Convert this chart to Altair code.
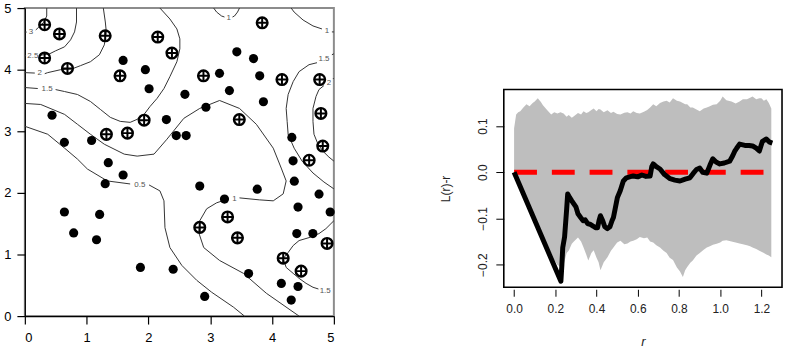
import altair as alt
import pandas as pd

# ---------------- left panel: point pattern ----------------
cross_x = [0.32, 0.56, 1.30, 0.32, 0.69, 2.15, 2.38, 1.54, 3.84, 2.89, 4.16, 4.77, 4.79,
           4.82, 4.60, 3.47, 1.93, 1.32, 1.66, 3.28, 2.83, 3.44, 4.18, 4.47, 4.89]
cross_y = [4.73, 4.58, 4.55, 4.19, 4.02, 4.53, 4.27, 3.90, 4.76, 3.90, 3.84, 3.84, 3.29,
           2.76, 2.53, 3.19, 3.18, 2.95, 2.97, 1.61, 1.44, 1.27, 0.94, 0.73, 1.18]
dot_x = [1.59, 1.95, 2.01, 2.59, 0.44, 2.29, 2.45, 2.61, 0.64, 1.08, 1.35, 3.43, 3.70, 3.15,
         3.80, 3.31, 3.86, 2.93, 4.32, 4.34, 4.36, 4.76, 4.94, 4.42, 4.40, 4.66, 2.83, 3.23,
         3.76, 2.40, 3.62, 2.91, 4.15, 4.42, 4.31, 1.59, 1.30, 0.64, 1.21, 0.79, 1.16, 1.87]
dot_y = [4.15, 4.00, 3.69, 3.60, 3.26, 3.19, 2.93, 2.93, 2.82, 2.85, 2.49, 4.29, 4.18, 3.94,
         3.90, 3.66, 3.48, 3.39, 2.90, 2.52, 2.19, 1.98, 1.69, 1.77, 1.34, 1.34, 2.11, 1.90,
         2.06, 0.76, 0.69, 0.32, 0.53, 0.48, 0.26, 2.29, 2.15, 1.69, 1.65, 1.35, 1.24, 0.79]

# contour paths (traced), one list of (x, y) per segment
contour_segments = {
    "c3a": [(0.354, 5.0), (0.354, 4.87), (0.305, 4.77), (0.225, 4.69), (0.177, 4.645)],
    "c3b": [(0.0, 4.61), (0.03, 4.61)],
    "c25a": [(0.836, 5.0), (0.836, 4.774), (0.804, 4.613), (0.74, 4.484), (0.643, 4.371),
             (0.498, 4.306), (0.402, 4.258), (0.257, 4.235)],
    "c25b": [(0.0, 4.226), (0.02, 4.226)],
    "c2a": [(1.27, 5.0), (1.302, 4.774), (1.318, 4.613), (1.286, 4.403), (1.206, 4.242),
            (1.061, 4.129), (0.9, 4.065), (0.772, 4.016), (0.579, 4.0), (0.37, 3.952),
            (0.322, 3.935)],
    "c2b": [(0.0, 3.952), (0.161, 3.945)],
    "c15a": [(0.0, 3.71), (0.209, 3.694)],
    "c15b": [(0.498, 3.677), (0.643, 3.645), (0.852, 3.597), (1.061, 3.484), (1.222, 3.355),
             (1.383, 3.226), (1.543, 3.161), (1.704, 3.145), (1.817, 3.194), (1.929, 3.274),
             (2.026, 3.403), (2.138, 3.532), (2.251, 3.694), (2.347, 3.887), (2.46, 4.129),
             (2.508, 4.339), (2.508, 4.5), (2.46, 4.661), (2.347, 4.823), (2.186, 5.0)],
    "c1a": [(0.0, 3.452), (0.257, 3.435), (0.643, 3.274), (0.852, 3.113), (1.061, 2.952),
            (1.286, 2.79), (1.608, 2.629), (1.817, 2.597), (2.09, 2.629), (2.299, 2.871),
            (2.572, 3.21), (2.83, 3.371), (3.151, 3.5), (3.473, 3.371), (3.746, 3.113),
            (4.019, 2.726), (4.148, 2.403), (4.228, 2.194), (4.18, 1.984), (4.019, 1.871),
            (3.794, 1.887), (3.473, 1.919)],
    "c1b": [(3.296, 1.903), (3.103, 1.839), (2.942, 1.742), (2.83, 1.548), (2.814, 1.355),
            (2.894, 1.113), (3.151, 0.903), (3.537, 0.694), (3.907, 0.371), (4.437, 0.0)],
    "c05a": [(0.0, 3.081), (0.37, 2.952), (0.643, 2.726), (0.852, 2.548), (1.013, 2.387),
             (1.334, 2.194), (1.704, 2.145)],
    "c05b": [(2.01, 2.129), (2.186, 2.032), (2.251, 1.871), (2.267, 1.435), (2.347, 1.113),
             (2.54, 0.823), (2.781, 0.581), (3.023, 0.387), (3.376, 0.145), (3.553, 0.0)],
    "c1ta": [(3.055, 5.0), (3.103, 4.935), (3.183, 4.871), (3.23, 4.855)],
    "c1tb": [(3.36, 4.855), (3.392, 4.871), (3.441, 4.935), (3.473, 5.0)],
    "c1ra": [(4.309, 5.0), (4.357, 4.935), (4.502, 4.806), (4.662, 4.71), (4.807, 4.661)],
    "c1rb": [(4.968, 4.613), (5.0, 4.613)],
    "c15ra": [(4.968, 4.242), (5.0, 4.258)],
    "c15rb": [(4.727, 4.113), (4.598, 4.081), (4.437, 3.968), (4.341, 3.806), (4.26, 3.597),
              (4.228, 3.371), (4.244, 3.161), (4.26, 2.952), (4.357, 2.726), (4.486, 2.516),
              (4.662, 2.323), (4.839, 2.177), (5.0, 2.065)],
    "c2ra": [(4.984, 3.855), (5.0, 3.855)],
    "c2rb": [(4.839, 3.742), (4.759, 3.677), (4.711, 3.565), (4.662, 3.371), (4.662, 3.161),
             (4.678, 2.952), (4.743, 2.79), (4.823, 2.677), (4.92, 2.581), (5.0, 2.516)],
    "c15l": [(5.0, 1.548), (4.871, 1.419), (4.759, 1.339), (4.598, 1.274), (4.437, 1.226),
             (4.341, 1.145), (4.26, 1.032), (4.18, 0.935), (4.228, 0.79), (4.341, 0.694),
             (4.437, 0.613), (4.55, 0.532), (4.662, 0.468), (4.75, 0.44)],
}
label_text = ["3", "2.5", "2", "1.5", "1", "0.5", "1", "1", "1.5", "2", "1.5"]
label_x = [0.10, 0.13, 0.24, 0.36, 3.39, 1.86, 3.30, 4.89, 4.84, 4.92, 4.86]
label_y = [4.61, 4.226, 3.94, 3.68, 1.903, 2.12, 4.84, 4.63, 4.17, 3.79, 0.40]

# ---------------- right panel: L(r)-r ----------------
r_env = [0.0, 0.01, 0.02, 0.03, 0.045, 0.06, 0.075, 0.09, 0.1, 0.115, 0.13, 0.14, 0.16, 0.18,
         0.195, 0.21, 0.225, 0.24, 0.255, 0.265, 0.28, 0.29, 0.31, 0.325, 0.337, 0.35, 0.36,
         0.375, 0.386, 0.40, 0.41, 0.419, 0.435, 0.453, 0.47, 0.482, 0.5, 0.516, 0.535, 0.55,
         0.565, 0.578, 0.595, 0.61, 0.63, 0.646, 0.66, 0.675, 0.69, 0.708, 0.725, 0.74, 0.755,
         0.771, 0.79, 0.805, 0.819, 0.83, 0.84, 0.855, 0.867, 0.885, 0.901, 0.92, 0.935, 0.95,
         0.965, 0.983, 1.0, 1.012, 1.03, 1.055, 1.075, 1.094, 1.11, 1.13, 1.145, 1.157, 1.175,
         1.19, 1.2, 1.212, 1.224, 1.236, 1.248]
env_hi = [0.095, 0.125, 0.13, 0.132, 0.14, 0.147, 0.143, 0.15, 0.153, 0.16, 0.152, 0.145,
          0.135, 0.125, 0.13, 0.127, 0.13, 0.127, 0.12, 0.124, 0.118, 0.121, 0.128, 0.125,
          0.132, 0.128, 0.13, 0.135, 0.138, 0.132, 0.137, 0.136, 0.13, 0.134, 0.128, 0.131,
          0.126, 0.125, 0.129, 0.13, 0.127, 0.132, 0.128, 0.127, 0.131, 0.135, 0.14, 0.147,
          0.143, 0.15, 0.153, 0.155, 0.151, 0.16, 0.155, 0.153, 0.15, 0.147, 0.147, 0.14,
          0.14, 0.136, 0.132, 0.138, 0.14, 0.143, 0.146, 0.147, 0.155, 0.164, 0.156, 0.153,
          0.149, 0.153, 0.158, 0.158, 0.161, 0.164, 0.158, 0.16, 0.16, 0.155, 0.158, 0.15, 0.138]
env_lo = [0.0, -0.01, -0.02, -0.03, -0.044, -0.058, -0.072, -0.088, -0.098, -0.112, -0.126,
          -0.137, -0.156, -0.175, -0.19, -0.2, -0.205, -0.2, -0.175, -0.17, -0.155, -0.15,
          -0.141, -0.15, -0.163, -0.178, -0.191, -0.175, -0.169, -0.185, -0.195, -0.212,
          -0.195, -0.184, -0.17, -0.163, -0.152, -0.148, -0.156, -0.154, -0.15, -0.148,
          -0.145, -0.14, -0.143, -0.141, -0.15, -0.152, -0.158, -0.163, -0.17, -0.175,
          -0.185, -0.19, -0.206, -0.215, -0.227, -0.212, -0.205, -0.196, -0.191, -0.18,
          -0.175, -0.168, -0.163, -0.16, -0.157, -0.155, -0.152, -0.148, -0.147, -0.15,
          -0.152, -0.154, -0.156, -0.158, -0.16, -0.163, -0.166, -0.17, -0.172, -0.175,
          -0.178, -0.18, -0.184]
r_obs = [0.0, 0.227, 0.232, 0.236, 0.245, 0.255, 0.26, 0.27, 0.28, 0.289, 0.30, 0.31, 0.323,
         0.335, 0.345, 0.357, 0.37, 0.385, 0.395, 0.405, 0.412, 0.419, 0.43, 0.44, 0.453,
         0.465, 0.475, 0.482, 0.49, 0.501, 0.515, 0.53, 0.545, 0.56, 0.578, 0.60, 0.62, 0.64,
         0.66, 0.668, 0.675, 0.69, 0.708, 0.73, 0.757, 0.78, 0.805, 0.83, 0.853, 0.87, 0.885,
         0.901, 0.915, 0.935, 0.95, 0.964, 0.98, 0.998, 1.02, 1.046, 1.06, 1.07, 1.08, 1.094,
         1.12, 1.14, 1.157, 1.175, 1.19, 1.205, 1.224, 1.24, 1.253]
L_obs = [0.0, -0.236, -0.2, -0.163, -0.14, -0.08, -0.047, -0.055, -0.062, -0.068, -0.075,
         -0.09, -0.098, -0.105, -0.103, -0.111, -0.113, -0.117, -0.12, -0.12, -0.105, -0.094,
         -0.105, -0.118, -0.122, -0.118, -0.105, -0.098, -0.08, -0.055, -0.04, -0.019, -0.012,
         -0.01, -0.008, -0.01, -0.006, -0.009, -0.008, 0.012, 0.018, 0.012, 0.007, -0.005,
         -0.014, -0.017, -0.019, -0.015, -0.012, -0.002, 0.006, 0.009, 0.0, -0.002, 0.015,
         0.029, 0.022, 0.018, 0.02, 0.024, 0.035, 0.045, 0.052, 0.061, 0.058, 0.058, 0.057,
         0.052, 0.046, 0.067, 0.072, 0.065, 0.063]
theo_r = [0.0, 1.25]
theo_L = [0.0, 0.0]

FONT = "Liberation Sans"

# ---------- build left panel ----------
rows = []
for seg, pts in contour_segments.items():
    for i, (cx, cy) in enumerate(pts):
        rows.append({"x": cx, "y": cy, "seg": seg, "o": i})
cont_df = pd.DataFrame(rows)
lab_df = pd.DataFrame({"x": label_x, "y": label_y, "t": label_text})
dot_df = pd.DataFrame({"x": dot_x, "y": dot_y})
cross_df = pd.DataFrame({"x": cross_x, "y": cross_y})

xs = alt.Scale(domain=[0, 5], nice=False, zero=False)
ys = alt.Scale(domain=[0, 5], nice=False, zero=False)
ax_common = dict(title=None, grid=False, tickSize=8, labelFontSize=13, labelColor="black",
                 domainColor="black", tickColor="black", domainWidth=1.2, tickWidth=1.2,
                 labelFont=FONT, format="d")
xL = alt.X("x:Q", scale=xs, axis=alt.Axis(values=[0, 1, 2, 3, 4, 5], labelPadding=8, **ax_common))
yL = alt.Y("y:Q", scale=ys, axis=alt.Axis(values=[0, 1, 2, 3, 4, 5], labelPadding=6,
                                           labelAngle=0, **ax_common))

contours = alt.Chart(cont_df).mark_line(color="#333333", strokeWidth=1).encode(
    x=xL, y=yL, detail="seg:N", order="o:Q")
labels = alt.Chart(lab_df).mark_text(fontSize=8, color="#555555", font=FONT).encode(
    x="x:Q", y="y:Q", text="t:N")
dots = alt.Chart(dot_df).mark_circle(size=85, color="black", opacity=1).encode(x="x:Q", y="y:Q")
rings = alt.Chart(cross_df).mark_point(shape="circle", size=115, filled=False, color="black",
                                        strokeWidth=2.4, opacity=1).encode(x="x:Q", y="y:Q")
plus = alt.Chart(cross_df).mark_point(shape="M-1,0L1,0M0,-1L0,1", size=130, filled=False,
                                       color="black", strokeWidth=2, opacity=1).encode(x="x:Q", y="y:Q")

left = alt.layer(contours, labels, dots, rings, plus).properties(
    width=311, height=310, view=alt.ViewBackground(stroke="#8c8c8c", strokeWidth=2))

# ---------- build right panel ----------
env_df = pd.DataFrame({"r": r_env, "hi": env_hi, "lo": env_lo})
obs_df = pd.DataFrame({"r": r_obs, "L": L_obs})
theo_df = pd.DataFrame({"r": theo_r, "L": theo_L})

rs = alt.Scale(domain=[-0.05, 1.30], nice=False, zero=False)
Ls = alt.Scale(domain=[-0.249, 0.179], nice=False, zero=False)
xR = alt.X("r:Q", scale=rs, axis=alt.Axis(
    values=[0, 0.2, 0.4, 0.6, 0.8, 1.0, 1.2], format=".1f", title="r", titleFontStyle="italic",
    titleFontWeight="normal", titleFontSize=13, titleFont=FONT, titlePadding=22, grid=False,
    domain=False, tickSize=7, offset=2, labelPadding=7, labelFontSize=12, labelFont=FONT,
    labelColor="#222222", tickColor="black", titleColor="#222222"))
yR = alt.Y("hi:Q", scale=Ls, axis=alt.Axis(
    values=[-0.2, -0.1, 0.0, 0.1], format=".1f", title="L(r)-r", titleFontWeight="normal",
    titleFontSize=12, titleFont=FONT, titlePadding=25, grid=False, domain=False, tickSize=8,
    labelAngle=-90, labelAlign="center", labelBaseline="bottom", labelPadding=6,
    labelFontSize=12, labelFont=FONT, labelColor="#222222", tickColor="black",
    titleColor="#222222"))

env = alt.Chart(env_df).mark_area(color="#bebebe", opacity=1, interpolate="linear").encode(
    x=xR, y=yR, y2="lo:Q")
obs = alt.Chart(obs_df).mark_line(color="black", strokeWidth=5, strokeJoin="round").encode(
    x="r:Q", y=alt.Y("L:Q", scale=Ls))
theo = alt.Chart(theo_df).mark_line(color="#ff0000", strokeWidth=5, strokeDash=[23, 15]).encode(
    x="r:Q", y=alt.Y("L:Q", scale=Ls))

right = alt.layer(env, theo, obs).properties(
    width=280, height=199, view=alt.ViewBackground(stroke="black", strokeWidth=1.6))

spacer = alt.Chart(pd.DataFrame({"a": [0]})).mark_point(opacity=0).encode(
    x=alt.X("a:Q", axis=None), y=alt.Y("a:Q", axis=None)).properties(
    width=280, height=80, view=alt.ViewBackground(stroke="transparent"))

right_col = alt.vconcat(spacer, right, spacing=0)

chart = alt.hconcat(left, right_col, spacing=100).properties(
    padding={"left": 2, "top": 0, "right": 2, "bottom": 0}
).configure(font=FONT).configure_view(fill="white")

chart.save("out.html", embed_options={"renderer": "svg", "actions": False})
